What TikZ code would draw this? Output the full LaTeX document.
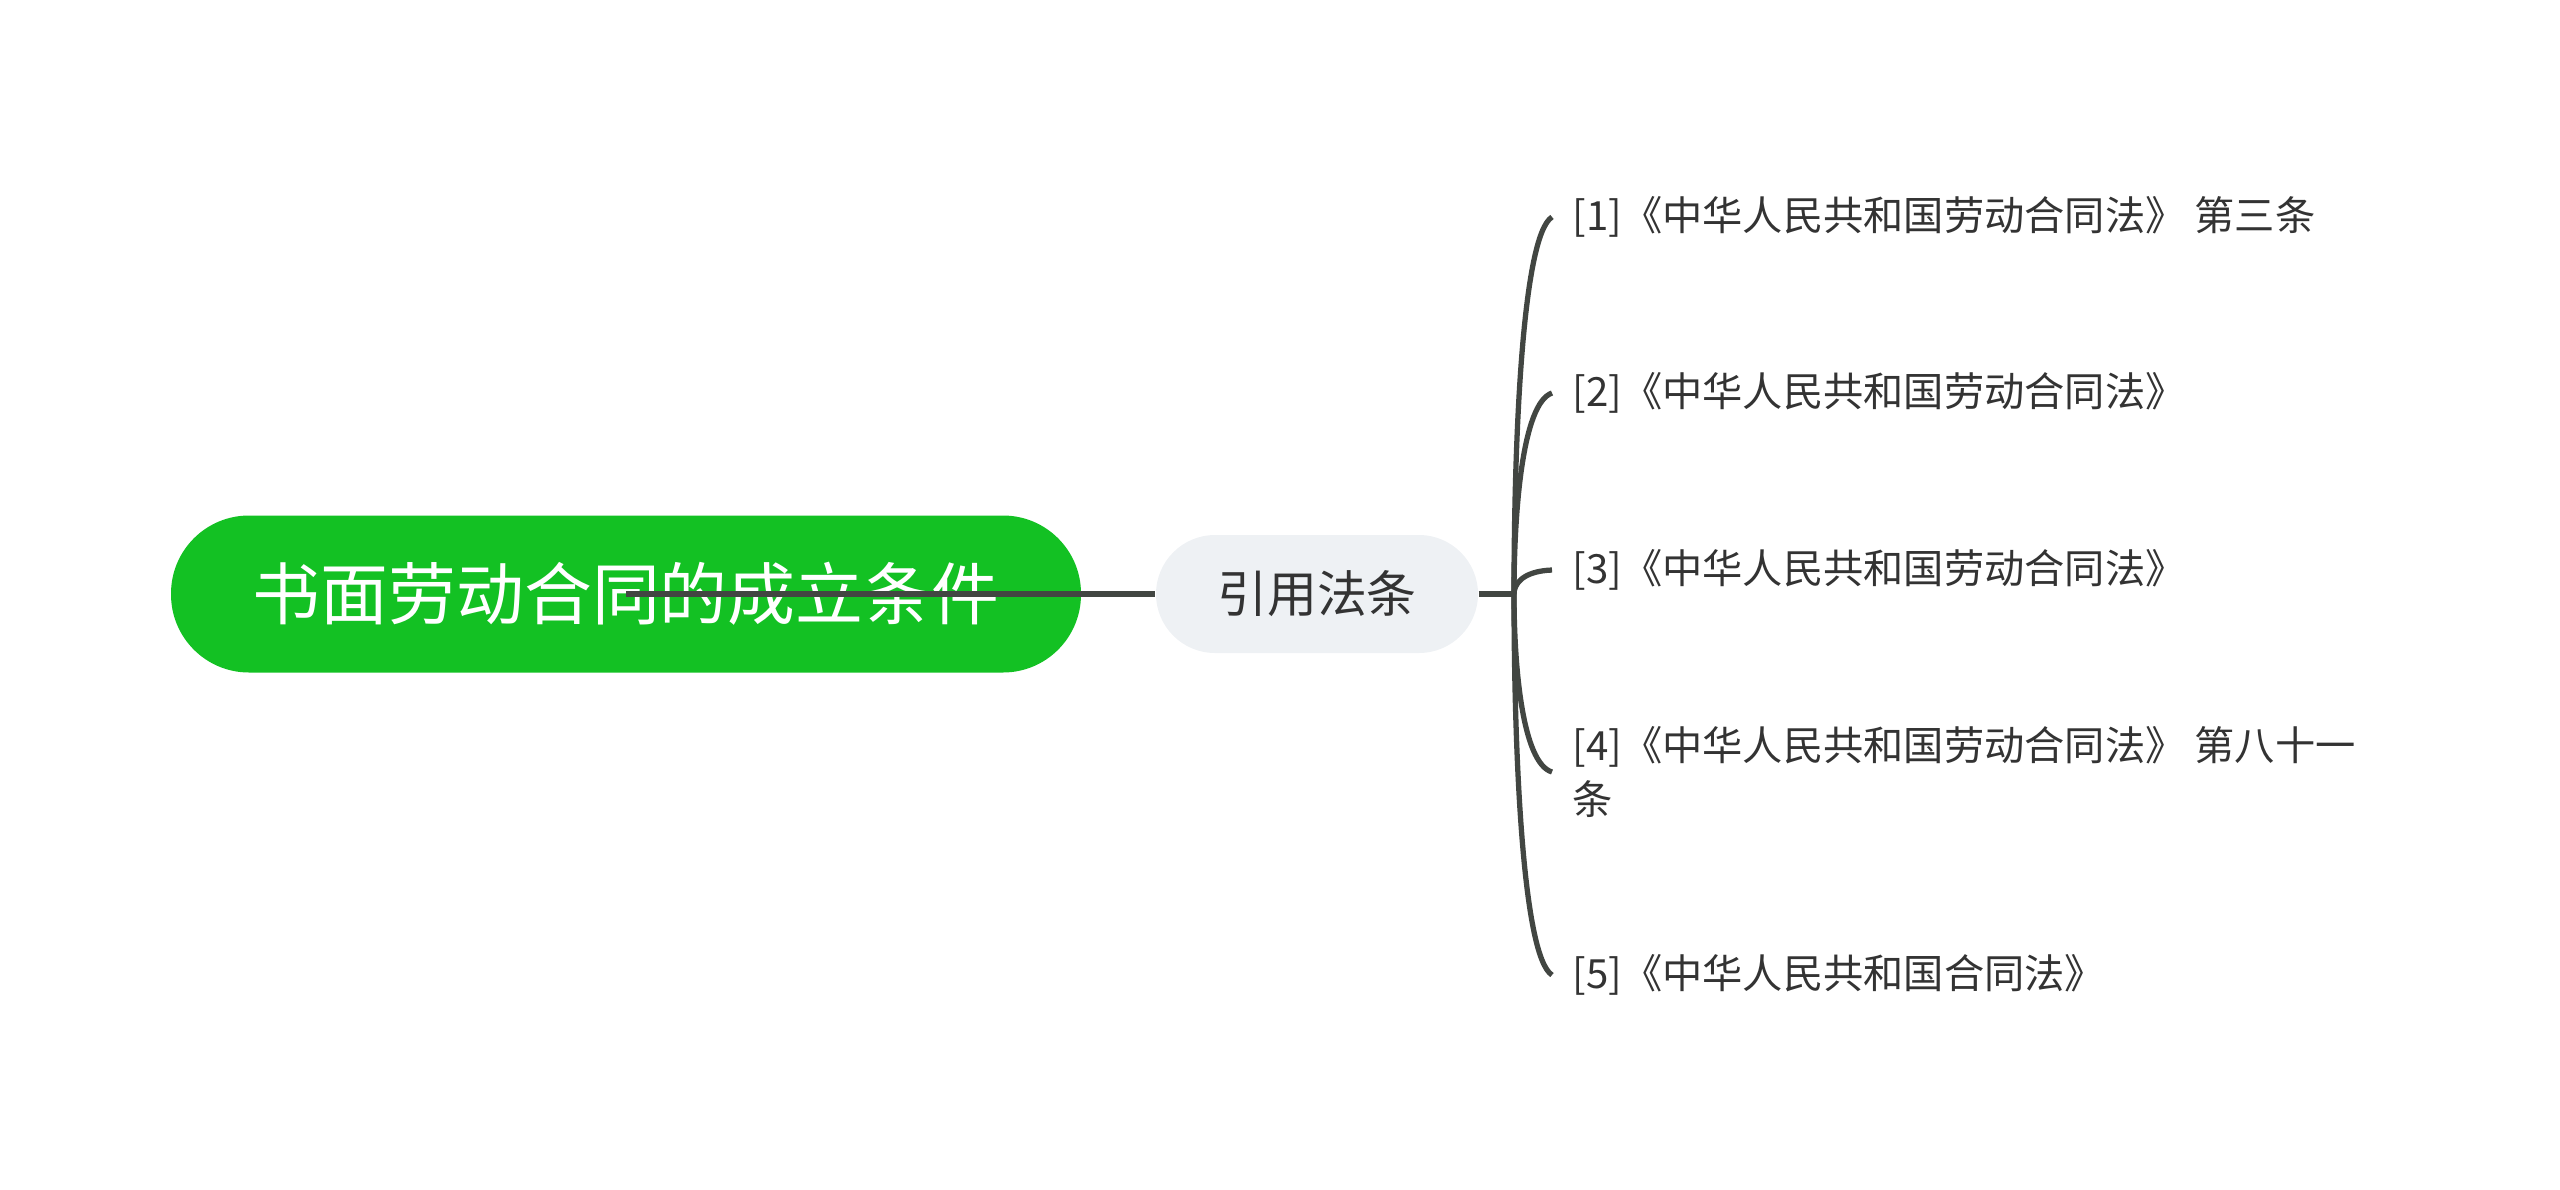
\documentclass[tikz,border=0pt]{standalone}
\usepackage{fontspec}
\usepackage{xcolor}
\usepackage{tikz}
\usetikzlibrary{positioning}
\usetikzlibrary{shapes}
\usetikzlibrary{calc}

\newfontfamily\cjk{Noto Sans CJK SC}
\definecolor{rootgreen}{RGB}{19,193,35}
\definecolor{topicgray}{RGB}{238,241,244}
\definecolor{linegray}{RGB}{66,70,66}
\definecolor{textgray}{RGB}{51,51,51}

\begin{document}
\begin{tikzpicture}
        [root/.style={rectangle,rounded corners=7.8mm,fill=rootgreen,text=white,minimum width=9.1cm,minimum height=1.57cm,font=\cjk\fontsize{19.3}{23}\selectfont,text centered},
        topic/.style={rectangle,rounded corners=5.9mm,fill=topicgray,text=textgray,minimum width=3.22cm,minimum height=1.18cm,font=\cjk\fontsize{14.2}{17}\selectfont,text centered},
        leaf/.style={anchor=west,inner xsep=0.2cm,inner ysep=2pt,text=textgray,align=left,font=\cjk\fontsize{11.45}{15.4}\selectfont},
        branch/.style={-,draw=linegray,line width=1.5pt}]

\useasboundingbox (0,0) rectangle (25.6,-11.89);

\begin{scope}

% types
\node[root] at (6.26,-5.94) (main) {书面劳动合同的成立条件};

\node[topic] at (13.17,-5.94) (laws) {引用法条};

\coordinate (hub) at (15.14,-5.94);

\node[leaf] at (15.52,-2.17) (law1) {[1]《中华人民共和国劳动合同法》 第三条};

\node[leaf] at (15.52,-3.93) (law2) {[2]《中华人民共和国劳动合同法》};

\node[leaf] at (15.52,-5.70) (law3) {[3]《中华人民共和国劳动合同法》};

\node[leaf] at (15.52,-7.72) (law4) {[4]《中华人民共和国劳动合同法》 第八十一\\条};

\node[leaf] at (15.52,-9.75) (law5) {[5]《中华人民共和国合同法》};


%arrows
\draw[branch] (main.center) -- (laws.west);
\draw[branch] (laws.east) -- (hub);
\draw[branch] (hub) .. controls ($(hub)!0.4!(hub |- law1.west)$) and ($(hub)!0.95!(hub |- law1.west)+(0.08,0)$) .. (law1.west);
\draw[branch] (hub) .. controls ($(hub)!0.4!(hub |- law2.west)$) and ($(hub)!0.95!(hub |- law2.west)+(0.08,0)$) .. (law2.west);
\draw[branch] (hub) .. controls ($(hub)!0.4!(hub |- law3.west)$) and ($(hub)!0.95!(hub |- law3.west)+(0.08,0)$) .. (law3.west);
\draw[branch] (hub) .. controls ($(hub)!0.4!(hub |- law4.west)$) and ($(hub)!0.95!(hub |- law4.west)+(0.08,0)$) .. (law4.west);
\draw[branch] (hub) .. controls ($(hub)!0.4!(hub |- law5.west)$) and ($(hub)!0.95!(hub |- law5.west)+(0.08,0)$) .. (law5.west);

\end{scope}

\end{tikzpicture}
\end{document}
